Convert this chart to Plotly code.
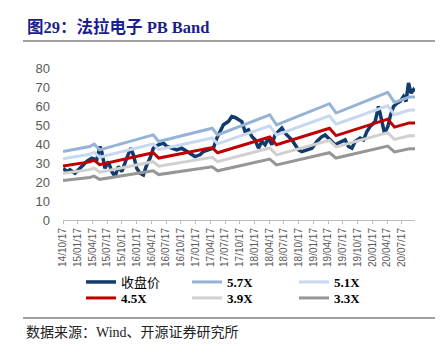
import plotly.graph_objects as go

# ---------------- data ----------------
price_dates = [
    "2014-10-19", "2014-11-09", "2014-11-29", "2014-12-30", "2015-01-30", "2015-03-13",
    "2015-04-13", "2015-05-14", "2015-06-03", "2015-06-14", "2015-07-04", "2015-07-25",
    "2015-08-15", "2015-09-04", "2015-09-25", "2015-10-16", "2015-11-16", "2015-12-11",
    "2015-12-27", "2016-01-17", "2016-02-06", "2016-02-27", "2016-03-15", "2016-04-08",
    "2016-04-29", "2016-05-30", "2016-06-30", "2016-07-21", "2016-08-21", "2016-09-21",
    "2016-10-22", "2016-11-22", "2016-12-23", "2017-01-12", "2017-02-12", "2017-03-05",
    "2017-04-05", "2017-05-06", "2017-05-27", "2017-06-16", "2017-07-07", "2017-08-07",
    "2017-08-28", "2017-09-17", "2017-10-08", "2017-10-29", "2017-11-18", "2017-12-09",
    "2017-12-30", "2018-01-19", "2018-02-09", "2018-03-02", "2018-03-22", "2018-04-12",
    "2018-05-03", "2018-05-23", "2018-06-13", "2018-07-04", "2018-07-24", "2018-08-14",
    "2018-09-04", "2018-09-24", "2018-10-15", "2018-11-05", "2018-12-06", "2019-01-06",
    "2019-02-06", "2019-03-09", "2019-03-29", "2019-04-19", "2019-05-10", "2019-05-30",
    "2019-06-20", "2019-07-11", "2019-07-31", "2019-08-21", "2019-09-11", "2019-10-01",
    "2019-11-01", "2019-11-22", "2019-12-13", "2020-01-02", "2020-02-02", "2020-02-23",
    "2020-03-15", "2020-03-31", "2020-04-21", "2020-05-05", "2020-05-26", "2020-06-16",
    "2020-07-06", "2020-07-27", "2020-08-11", "2020-08-27", "2020-09-11", "2020-09-27",
    "2020-10-06",
]
close_price = [
    27.2, 25.5, 26.4, 24.6, 27.2, 30.8,
    32.5, 31.6, 38.7, 36.0, 27.2, 30.8,
    25.5, 22.8, 28.1, 25.5, 32.5, 37.8,
    34.3, 27.2, 24.6, 23.7, 28.1, 32.5,
    37.8, 39.6, 40.5, 38.7, 37.8, 36.9,
    37.8, 36.0, 34.3, 33.4, 34.3, 36.0,
    36.9, 37.8, 43.1, 46.6, 50.1, 51.8,
    54.5, 54.0, 52.7, 51.8, 46.6, 47.5,
    43.9, 42.2, 37.8, 41.3, 39.6, 43.1,
    39.6, 44.8, 46.6, 48.4, 45.7, 43.9,
    42.2, 39.6, 36.9, 36.0, 36.9, 37.8,
    41.3, 43.9, 44.8, 43.1, 41.3, 39.6,
    40.5, 41.3, 42.2, 38.7, 37.8, 41.3,
    43.1, 42.2, 46.6, 49.2, 51.8, 59.8,
    51.0, 45.7, 49.2, 54.5, 59.8, 61.5,
    62.4, 65.0, 62.4, 72.1, 66.8, 68.6,
    67.7,
]

band_dates = [
    "2014-10-17", "2015-03-31", "2015-04-28", "2015-06-01", "2016-04-28", "2016-06-01",
    "2017-04-28", "2017-06-01", "2018-04-20", "2018-06-01", "2019-04-25", "2019-06-05",
    "2020-04-20", "2020-06-01", "2020-09-01", "2020-10-06",
]
band_57 = [36.0, 38.7, 39.9, 36.9, 44.8, 41.3, 48.3, 44.8, 55.4, 50.1, 61.2, 56.3, 67.2, 61.9, 64.7, 64.7]
band_51 = [32.2, 34.6, 35.7, 33.0, 40.1, 37.0, 43.2, 40.1, 49.6, 44.8, 54.8, 50.4, 60.1, 55.4, 57.9, 57.9]
band_45 = [28.4, 30.6, 31.5, 29.1, 35.4, 32.6, 38.1, 35.4, 43.7, 39.6, 48.3, 44.4, 53.1, 48.9, 51.1, 51.1]
band_39 = [24.6, 26.5, 27.3, 25.2, 30.7, 28.3, 33.0, 30.7, 37.9, 34.3, 41.9, 38.5, 46.0, 42.4, 44.3, 44.3]
band_33 = [20.8, 22.4, 23.1, 21.4, 25.9, 23.9, 28.0, 25.9, 32.1, 29.0, 35.4, 32.6, 38.9, 35.8, 37.5, 37.5]

tick_dates = [
    "2014-10-17", "2015-01-17", "2015-04-17", "2015-07-17", "2015-10-17", "2016-01-17",
    "2016-04-17", "2016-07-17", "2016-10-17", "2017-01-17", "2017-04-17", "2017-07-17",
    "2017-10-17", "2018-01-17", "2018-04-17", "2018-07-17", "2018-10-17", "2019-01-17",
    "2019-04-17", "2019-07-17", "2019-10-17", "2020-01-17", "2020-04-17", "2020-07-17",
]
tick_text = [
    "14/10/17", "15/01/17", "15/04/17", "15/07/17", "15/10/17", "16/01/17",
    "16/04/17", "16/07/17", "16/10/17", "17/01/17", "17/04/17", "17/07/17",
    "17/10/17", "18/01/17", "18/04/17", "18/07/17", "18/10/17", "19/01/17",
    "19/04/17", "19/07/17", "19/10/17", "20/01/17", "20/04/17", "20/07/17",
]

# page has an 8px body margin: the figure is drawn 8px right/down of the window origin
OFF = 8
W, H = 446 - OFF, 355 - OFF
L, R, T, B = 63 - OFF, 31, 68 - OFF, 135
PW, PH = W - L - R, H - T - B
SERIF = "Liberation Serif, Noto Sans CJK SC, serif"
SANS = "Liberation Sans, Arial, sans-serif"


def px_x(x):  # x in window pixels
    return (x - OFF - L) / PW


def px_y(y):  # y in window pixels
    return 1 - (y - OFF - T) / PH


series = [
    ("收盘价", price_dates, close_price, "#123B6D", 3.5),
    ("<b>5.7X</b>", band_dates, band_57, "#95B3D7", 3),
    ("<b>5.1X</b>", band_dates, band_51, "#C6D9F1", 3),
    ("<b>4.5X</b>", band_dates, band_45, "#C00000", 3),
    ("<b>3.9X</b>", band_dates, band_39, "#D0D0D0", 3),
    ("<b>3.3X</b>", band_dates, band_33, "#969696", 3),
]
legend_pos = [(73, 274), (179, 274), (286, 274), (73, 290), (179, 290), (286, 290)]

fig = go.Figure()
legend_layout = {}
for i, (name, xs, ys, color, width) in enumerate(series):
    key = "legend" if i == 0 else f"legend{i + 1}"
    fig.add_trace(go.Scatter(x=xs, y=ys, mode="lines", name=name,
                             line=dict(color=color, width=width), legend=key))
    lx, ly = legend_pos[i]
    legend_layout[key] = dict(
        orientation="h", xref="container", yref="container",
        x=lx / W, y=1 - ly / H, xanchor="left", yanchor="middle",
        font=dict(family=SERIF, size=13, color="#000000"),
        bgcolor="rgba(0,0,0,0)", borderwidth=0,
        itemclick=False, itemdoubleclick=False)

fig.update_layout(
    width=W, height=H,
    margin=dict(l=L, r=R, t=T, b=B, autoexpand=False),
    paper_bgcolor="white", plot_bgcolor="white",
    showlegend=True,
    xaxis=dict(
        type="date", range=["2014-10-17", "2020-10-06"],
        tickmode="array", tickvals=tick_dates, ticktext=tick_text,
        tickangle=-90, tickfont=dict(family=SANS, size=10, color="#595959"),
        showgrid=False, showline=True, linecolor="#BFBFBF", linewidth=1,
        ticks="outside", ticklen=3, tickcolor="#BFBFBF", zeroline=False,
    ),
    yaxis=dict(
        range=[0, 80], tickmode="array", tickvals=[0, 10, 20, 30, 40, 50, 60, 70, 80],
        tickfont=dict(family=SANS, size=13, color="#595959"),
        showgrid=False, showline=False, zeroline=False, ticks="", ticklabelstandoff=12,
    ),
    annotations=[
        dict(text="<b>图29：法拉电子 PB Band</b>", xref="paper", yref="paper",
             x=px_x(25), y=px_y(27), xanchor="left", yanchor="middle", showarrow=False,
             font=dict(family=SERIF, size=16.5, color="#1B1F8A")),
        dict(text="数据来源：Wind、开源证券研究所", xref="paper", yref="paper",
             x=px_x(24), y=px_y(332), xanchor="left", yanchor="middle", showarrow=False,
             font=dict(family=SERIF, size=14, color="#222222")),
    ],
    shapes=[
        dict(type="line", xref="paper", yref="paper",
             x0=px_x(0), x1=px_x(435), y0=px_y(2), y1=px_y(2),
             line=dict(color="#000000", width=2)),
        dict(type="line", xref="paper", yref="paper",
             x0=px_x(23), x1=px_x(435), y0=px_y(41), y1=px_y(41),
             line=dict(color="#808080", width=1.5)),
        dict(type="line", xref="paper", yref="paper",
             x0=px_x(23), x1=px_x(435), y0=px_y(318), y1=px_y(318),
             line=dict(color="#808080", width=1.5)),
    ],
    **legend_layout,
)

fig.write_html("out.html")
